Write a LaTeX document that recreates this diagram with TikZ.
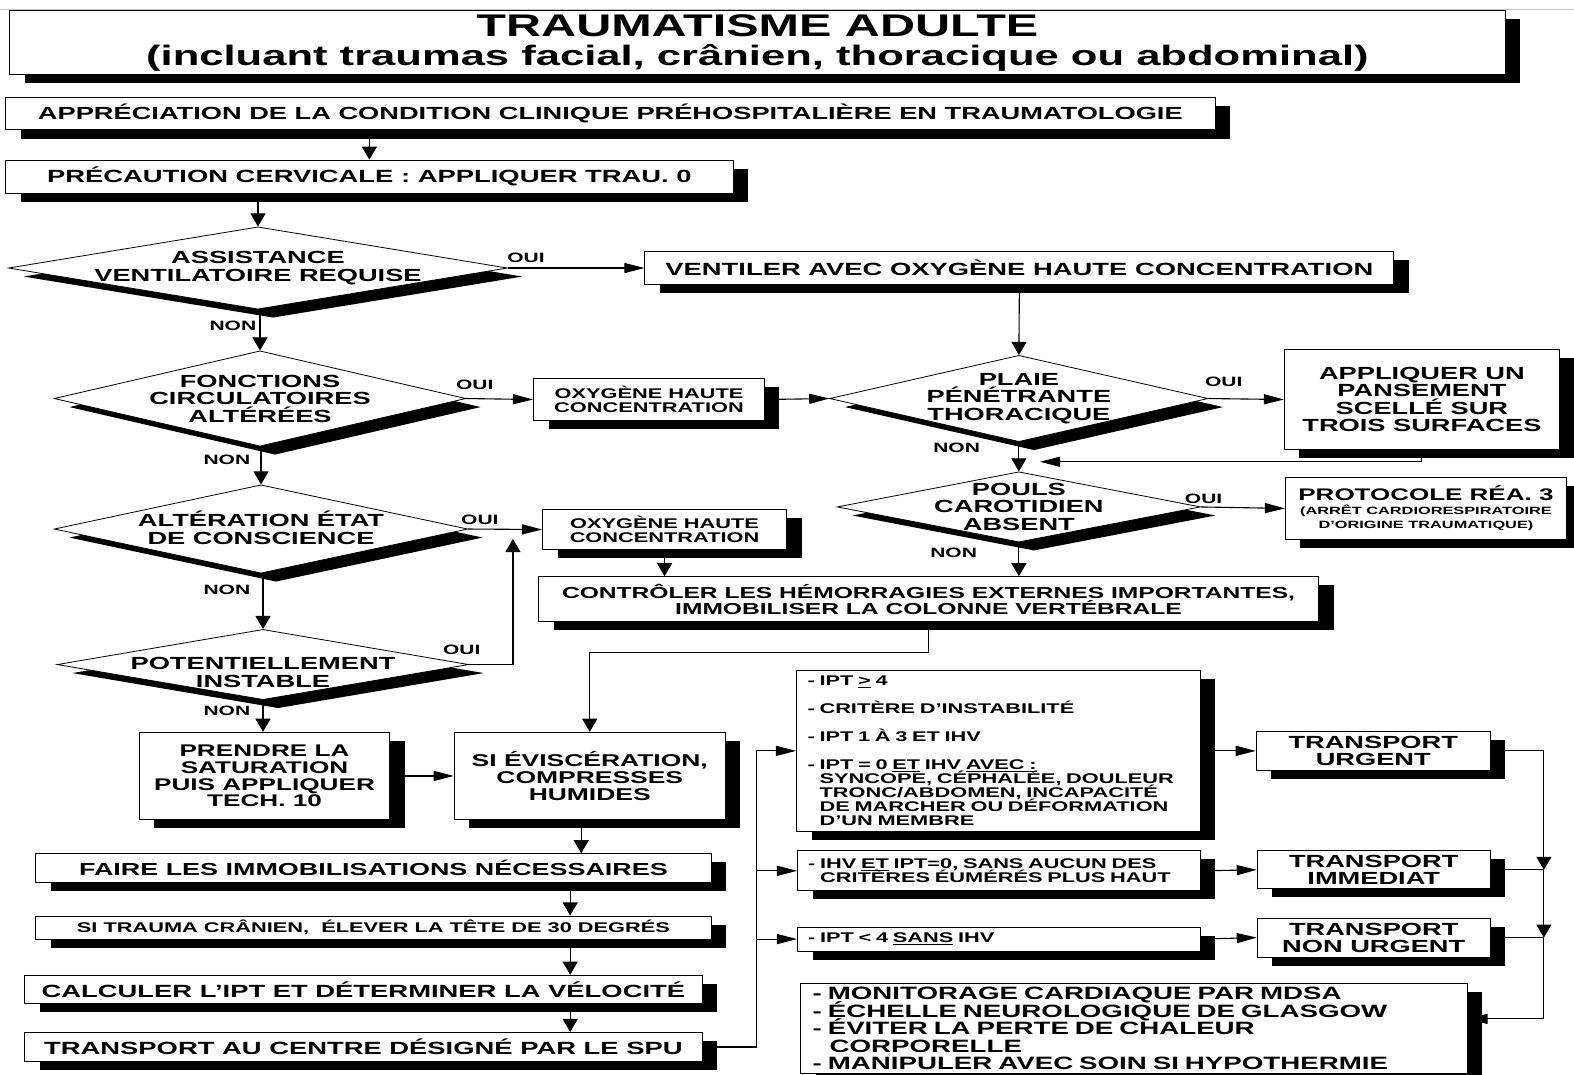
\documentclass[tikz,border=0pt]{standalone}
\usepackage{fontspec}
\setmainfont{Liberation Sans}[FakeStretch=1.55]
\usetikzlibrary{positioning,arrows.meta,shapes.geometric,shadows}
\newcommand\fsz[2]{\fontsize{#1}{#2}\selectfont\bfseries\lineskiplimit=-30pt\relax}

\begin{document}
\begin{tikzpicture}[x=1pt,y=-1pt,
 box/.style={draw,line width=1pt,fill=white,anchor=north west,inner sep=0pt,align=center,
  drop shadow={shadow xshift=15pt,shadow yshift=-8.5pt,opacity=1,fill=black}},
 dia/.style={diamond,draw,line width=.8pt,fill=white,inner sep=0pt,
  drop shadow={shadow xshift=15pt,shadow yshift=-8.5pt,opacity=1,fill=black}},
 dtx/.style={align=center,inner sep=0pt,font=\fsz{17.5}{17.5}},
 lbl/.style={inner sep=0pt,font=\fsz{13.5}{13.5}},
 ah/.style={-{Triangle[length=20pt,width=10pt]},line width=1.1pt},
 av/.style={-{Triangle[length=13pt,width=15pt]},line width=1.1pt},
 ln/.style={line width=1.1pt}]
\useasboundingbox (0,0) rectangle (1568,1070);
\draw[gray!45,line width=1pt] (0,9) -- (1568,9);
\node[box,minimum width=1490pt,minimum height=64pt,font=\fsz{28}{29}] (titre) at (9,10) {\fsz{31.2}{31}TRAUMATISME ADULTE\\\fsz{28}{29}(incluant traumas facial, crânien, thoracique ou abdominal)};
\node[box,minimum width=1205pt,minimum height=32pt,font=\fsz{17.5}{17.5}] (appr) at (5,97) {APPRÉCIATION DE LA CONDITION CLINIQUE PRÉHOSPITALIÈRE EN TRAUMATOLOGIE};
\node[box,minimum width=725pt,minimum height=33pt,font=\fsz{17.6}{17.6}] (prec) at (5,159) {PRÉCAUTION CERVICALE : APPLIQUER TRAU. 0};
\node[dia,minimum width=497pt,minimum height=82pt] (d1) at (257,267) {};
\node[dtx] (d1t) at (d1.center) {ASSISTANCE\\VENTILATOIRE REQUISE};
\node[box,minimum width=746pt,minimum height=33pt,font=\fsz{17.6}{17.6}] (vent) at (642,250) {VENTILER AVEC OXYGÈNE HAUTE CONCENTRATION};
\node[dia,minimum width=410pt,minimum height=95pt] (d2) at (259,397) {};
\node[dtx] (d2t) at (d2.center) {FONCTIONS\\CIRCULATOIRES\\ALTÉRÉES};
\node[box,minimum width=230pt,minimum height=41pt,font=\fsz{14}{14}] (oxya) at (531,377) {OXYGÈNE HAUTE\\CONCENTRATION};
\node[dia,minimum width=377pt,minimum height=86pt] (d3) at (1015,397) {};
\node[dtx] (d3t) at (d3.center) {PLAIE\\PÉNÉTRANTE\\THORACIQUE};
\node[box,minimum width=274pt,minimum height=99pt,font=\fsz{17.5}{17.5}] (pans) at (1279,348) {APPLIQUER UN\\PANSEMENT\\SCELLÉ SUR\\TROIS SURFACES};
\node[dia,minimum width=362pt,minimum height=70pt] (d4) at (1015,505) {};
\node[dtx] (d4t) at (d4.center) {POULS\\CAROTIDIEN\\ABSENT};
\node[box,minimum width=280pt,minimum height=62pt,font=\fsz{10.5}{14}] (prot) at (1280,475) {\fsz{16.7}{14}PROTOCOLE RÉA. 3\\\fsz{10.5}{14}(ARRÊT CARDIORESPIRATOIRE\\\fsz{10.5}{14}D'ORIGINE TRAUMATIQUE)};
\node[box,minimum width=243pt,minimum height=40pt,font=\fsz{14}{14}] (oxyb) at (540,507) {OXYGÈNE HAUTE\\CONCENTRATION};
\node[dia,minimum width=412pt,minimum height=88pt] (d5) at (260,527) {};
\node[dtx] (d5t) at ([yshift=1pt]d5.center) {ALTÉRATION ÉTAT\\DE CONSCIENCE};
\node[box,minimum width=777pt,minimum height=45pt,font=\fsz{15.8}{15.5}] (ctrl) at (536,574) {CONTRÔLER LES HÉMORRAGIES EXTERNES IMPORTANTES,\\IMMOBILISER LA COLONNE VERTÉBRALE};
\node[dia,minimum width=410pt,minimum height=70pt] (d6) at (262,662) {};
\node[dtx] (d6t) at ([yshift=-8pt]d6.center) {POTENTIELLEMENT\\INSTABLE};
\node[box,minimum width=250pt,minimum height=87pt,font=\fsz{16.8}{16.8}] (satu) at (138,729) {PRENDRE LA\\SATURATION\\PUIS APPLIQUER\\TECH. 10};
\node[box,minimum width=270pt,minimum height=87pt,font=\fsz{17}{16.5}] (evis) at (452,729) {SI ÉVISCÉRATION,\\COMPRESSES\\HUMIDES};
\node[box,minimum width=673pt,minimum height=29pt,font=\fsz{17.3}{17.3}] (immo) at (35,850) {FAIRE LES IMMOBILISATIONS NÉCESSAIRES};
\node[box,minimum width=673pt,minimum height=23pt,font=\fsz{14}{14}] (tete) at (35,912) {SI TRAUMA CRÂNIEN,\ \ ÉLEVER LA TÊTE DE 30 DEGRÉS};
\node[box,minimum width=675pt,minimum height=28pt,font=\fsz{17.6}{17.6}] (calc) at (24,971) {CALCULER L’IPT ET DÉTERMINER LA VÉLOCITÉ};
\node[box,minimum width=675pt,minimum height=29pt,font=\fsz{17.6}{17.6}] (cent) at (24,1028) {TRANSPORT AU CENTRE DÉSIGNÉ PAR LE SPU};
\node[box,minimum width=402pt,minimum height=161pt,text width=380pt,align=left,font=\fsz{14}{14}] (crit) at (793,667) {- IPT \underline{>} 4\\[14pt]- CRITÈRE D'INSTABILITÉ\\[14pt]- IPT 1 À 3 ET IHV\\[14pt]- IPT = 0 \underline{ET} IHV \underline{AVEC :}\\\hspace*{12pt}SYNCOPE, CÉPHALÉE, DOULEUR\\\hspace*{12pt}TRONC/ABDOMEN, INCAPACITÉ\\\hspace*{12pt}DE MARCHER OU DÉFORMATION\\\hspace*{12pt}D'UN MEMBRE};
\node[box,minimum width=401pt,minimum height=40pt,text width=380pt,align=left,font=\fsz{14}{13.5}] (ihv) at (794,847) {- IHV \underline{ET} IPT=0, SANS AUCUN DES\\\hspace*{12pt}CRITÈRES ÉUMÉRÉS PLUS HAUT};
\node[box,minimum width=401pt,minimum height=24pt,text width=380pt,align=left,font=\fsz{14}{14}] (ipt) at (794,923) {- IPT < 4 \underline{SANS} IHV};
\node[box,minimum width=233pt,minimum height=39pt,font=\fsz{17.5}{17}] (turg) at (1251,728) {TRANSPORT\\URGENT};
\node[box,minimum width=232pt,minimum height=38pt,font=\fsz{17.5}{17}] (timm) at (1252,847) {TRANSPORT\\IMMEDIAT};
\node[box,minimum width=232pt,minimum height=39pt,font=\fsz{17.5}{17}] (tnon) at (1252,914) {TRANSPORT\\NON URGENT};
\node[box,minimum width=664pt,minimum height=90pt,text width=640pt,align=left,font=\fsz{17.8}{17.5}] (soin) at (797,979) {- MONITORAGE CARDIAQUE PAR MDSA\\- ÉCHELLE NEUROLOGIQUE DE GLASGOW\\- ÉVITER LA PERTE DE CHALEUR\\\hspace*{17pt}CORPORELLE\\- MANIPULER AVEC SOIN SI HYPOTHERMIE};
\node[lbl] (oui1) at (524,257) {OUI};
\node[lbl] (non1) at (232,325) {NON};
\node[lbl] (oui2) at (473,383) {OUI};
\node[lbl] (non2) at (226,458) {NON};
\node[lbl] (oui3) at (1219,380) {OUI};
\node[lbl] (non3) at (953,446) {NON};
\node[lbl] (oui4) at (1199,497) {OUI};
\node[lbl] (non4) at (950,551) {NON};
\node[lbl] (oui5) at (478,518) {OUI};
\node[lbl] (non5) at (226,588) {NON};
\node[lbl] (oui6) at (460,647) {OUI};
\node[lbl] (non6) at (226,708) {NON};
\coordinate (ax) at (568,0);
\coordinate (bx) at (579,0);
\coordinate (bus) at (754,0);
\coordinate (rb) at (1538,0);
\coordinate (jn) at (511,537);
\coordinate (mj) at (1036,460);
\draw[av] (prec.north |- appr.south) -- (prec.north);
\draw[av] (d1.north |- prec.south) -- (d1.north);
\draw[ah] (d1.east) -- (vent.west);
\draw[av] (d2.north |- d1.south) -- (d2.north);
\draw[ah] (d2.east) -- (oxya.west);
\draw[ah] (oxya.east) -- (d3.west);
\draw[av] (vent.south) -- (d3.north);
\draw[ah] (d3.east) -- (pans.west);
\draw[ah] (pans.south) |- (mj);
\draw[av] (d3.south) -- (d4.north);
\draw[ah] (d4.east) -- (prot.west);
\draw[av] (d4.south) -- (d4.south |- ctrl.north);
\draw[av] (d5.north |- d2.south) -- (d5.north);
\draw[ah] (d5.east) -- (oxyb.west);
\draw[av] (d6.north |- d5.south) -- (d6.north);
\draw[av] (d6.east) -| (jn);
\draw[av] (d6.south) -- (d6.south |- satu.north);
\draw[av] (oxyb.south) -- (oxyb.south |- ctrl.north);
\draw[av] (ctrl.south) -- ++(0,30) -| (evis.north);
\draw[ah] (satu.east) -- (evis.west);
\draw[av] (evis.south -| bx) -- (immo.north -| bx);
\draw[av] (immo.south -| ax) -- (tete.north -| ax);
\draw[av] (tete.south -| ax) -- (calc.north -| ax);
\draw[av] (calc.south -| ax) -- (cent.north -| ax);
\draw[ah] (cent.east) -| (bus |- crit.west) -- (crit.west);
\draw[ah] (bus |- ihv.west) -- (ihv.west);
\draw[ah] (bus |- ipt.west) -- (ipt.west);
\draw[ah] (crit.east) -- (turg.west);
\draw[ah] (ihv.east) -- (timm.west);
\draw[ah] (ipt.east) -- (tnon.west);
\draw[av] (turg.east) -| (rb |- timm.east);
\draw[ln] (timm.east) -- (rb |- timm.east);
\draw[av] (rb |- timm.east) -- (rb |- tnon.east);
\draw[ln] (tnon.east) -- (rb |- tnon.east);
\draw[ah] (rb |- tnon.east) |- ([yshift=9.5pt]soin.east);
\end{tikzpicture}
\end{document}
